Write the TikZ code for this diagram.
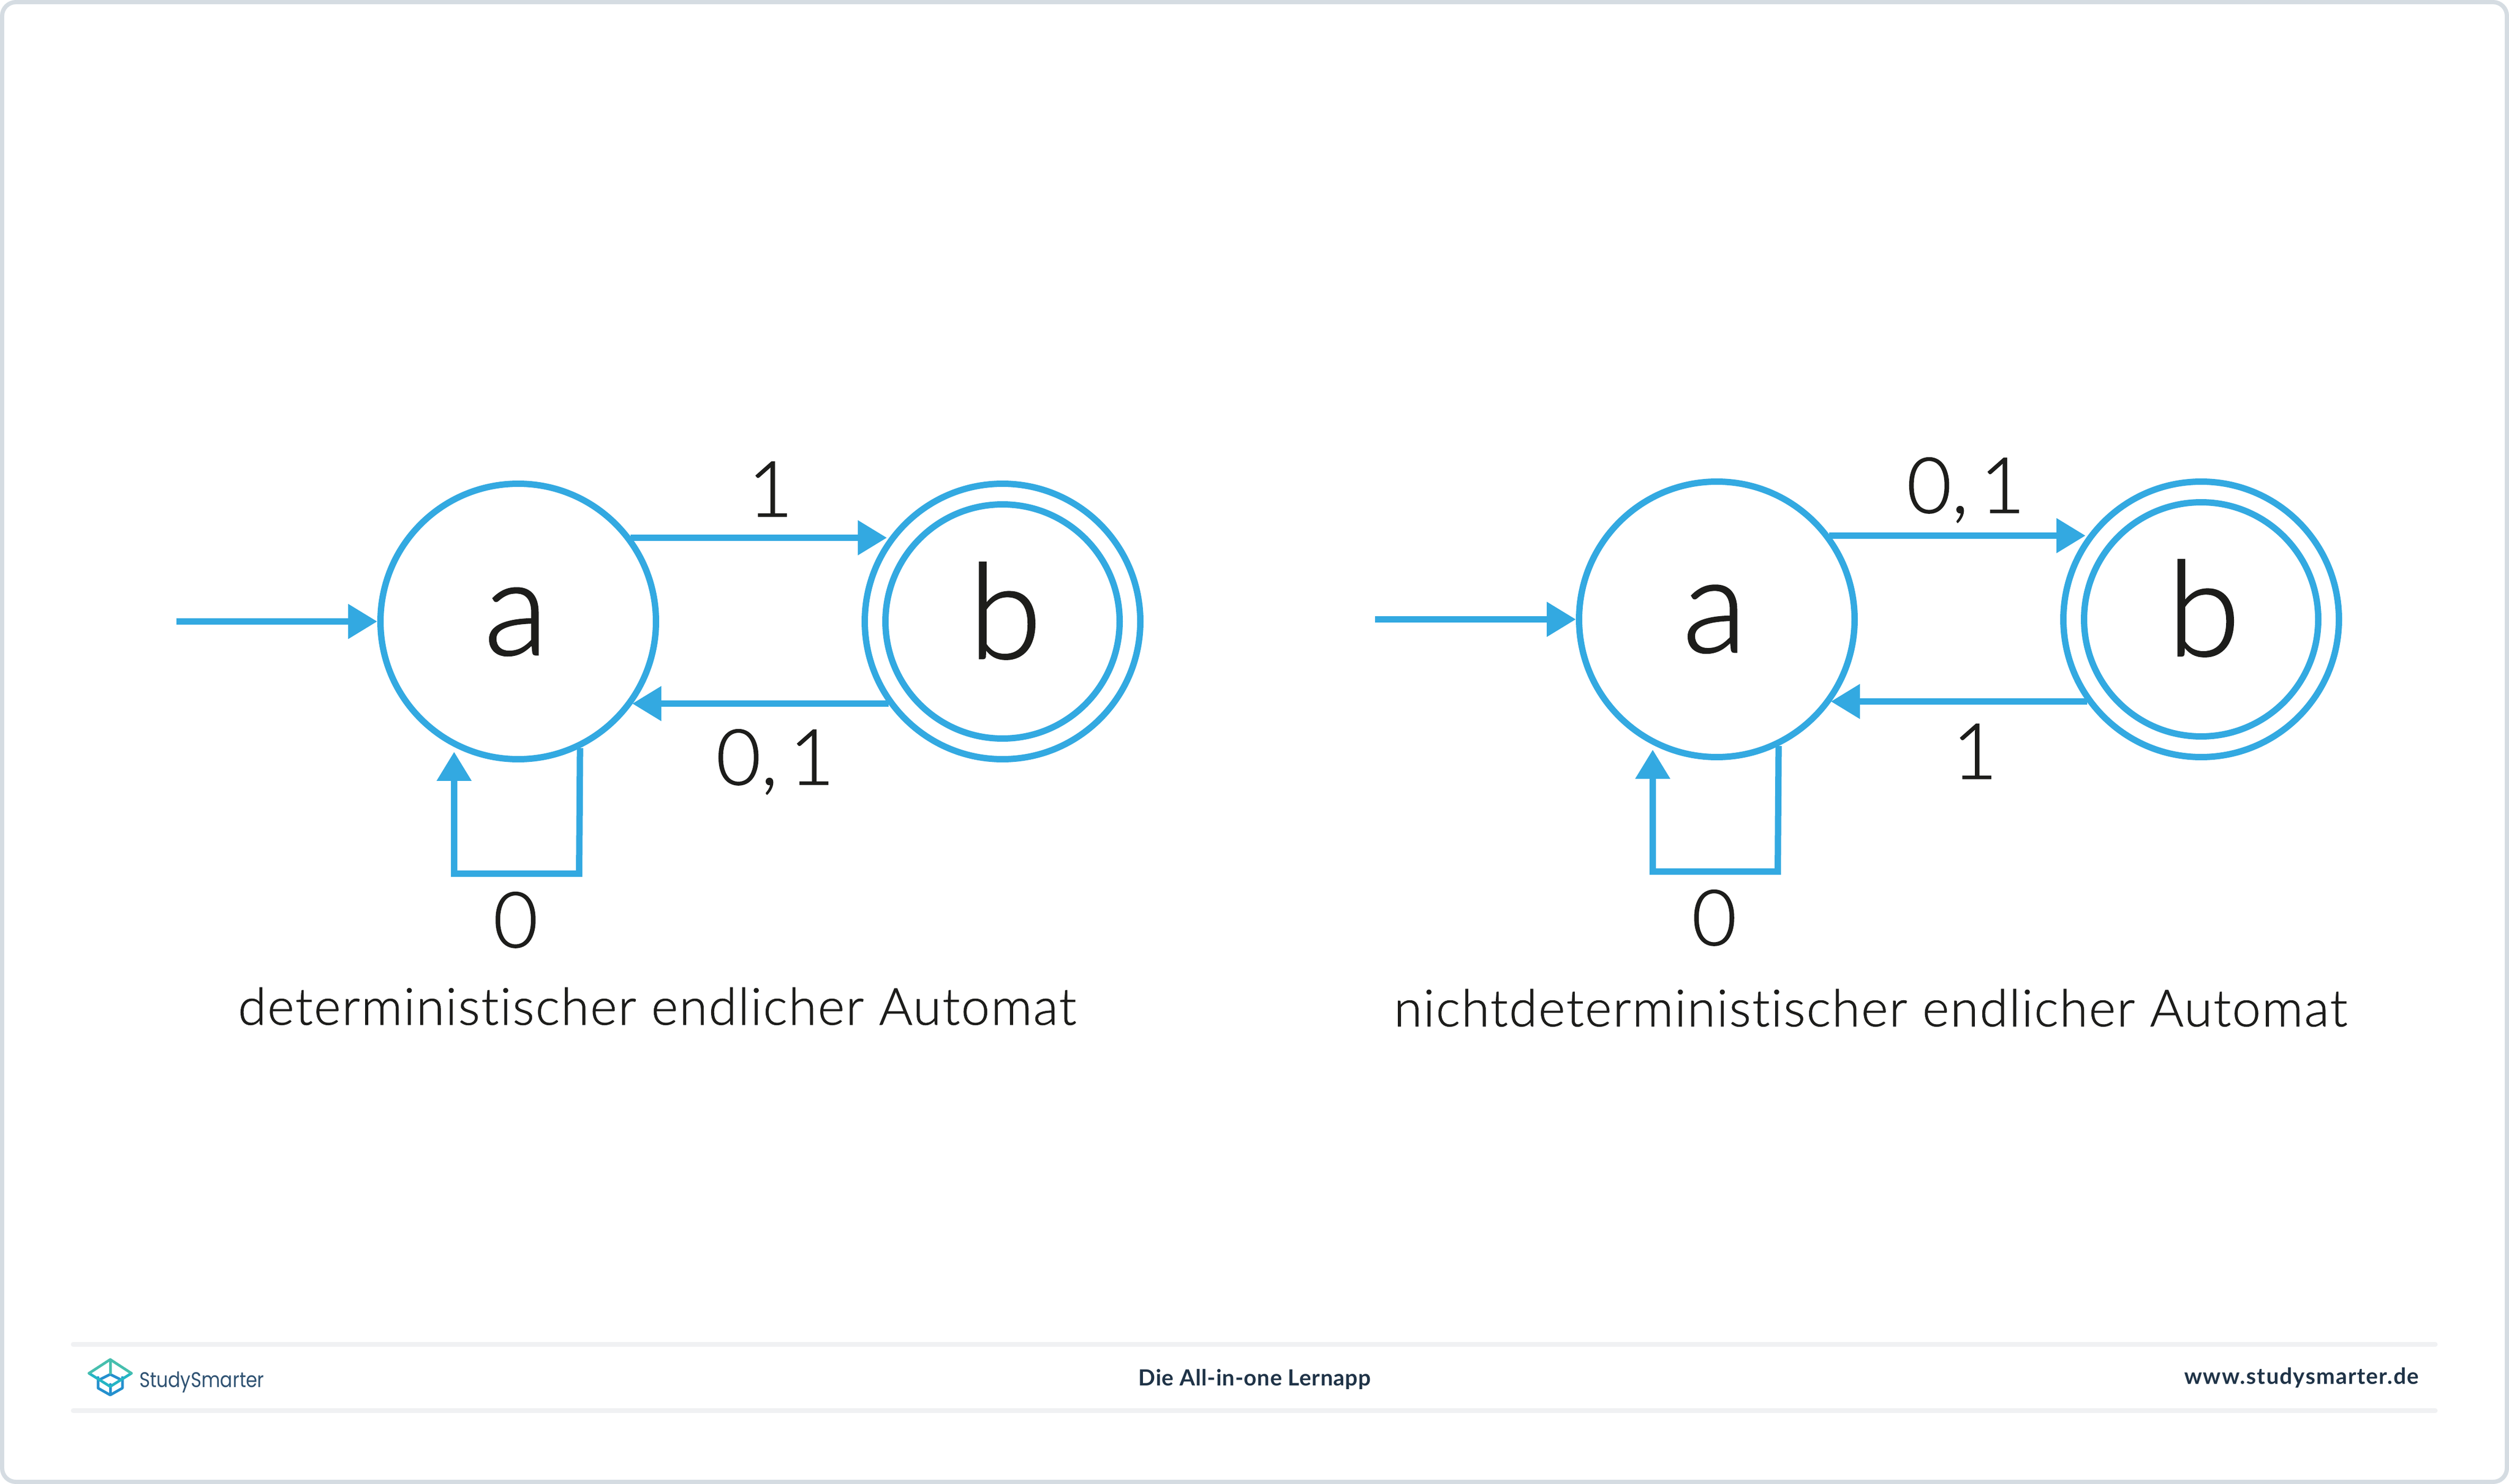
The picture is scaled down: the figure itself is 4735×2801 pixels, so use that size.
\documentclass[tikz,border=0pt]{standalone}
\usepackage{fontspec}
\setmainfont{Lato}[UprightFont=* Light,Ligatures=NoCommon,FakeBold=1]
\newfontfamily\capfont{Lato}[UprightFont=* Light,Ligatures=NoCommon,LetterSpace=2.4,FakeBold=1]
\newfontfamily\footfonta{Lato}[Ligatures=NoCommon,LetterSpace=2]
\newfontfamily\footfontb{Lato}[Ligatures=NoCommon,LetterSpace=4]
\newfontfamily\logofont{Poppins}[FakeStretch=0.86]
\usetikzlibrary{arrows.meta,calc}
\definecolor{autoblue}{HTML}{33A9E1}
\definecolor{inkc}{HTML}{1D1D1B}
\definecolor{framec}{HTML}{D5DCE2}
\definecolor{rulec}{HTML}{F0F1F3}
\definecolor{footc}{HTML}{1F3347}
\definecolor{logoc}{HTML}{2F5272}
\definecolor{logoa}{HTML}{46BFAE}
\definecolor{logob}{HTML}{25B5C4}
\definecolor{logoc2}{HTML}{2490CE}
\newcommand{\labfontsel}{\fontsize{14.6pt}{15pt}\selectfont}
\newcommand{\tightword}{\spaceskip=2.2pt\relax}
\begin{document}
\begin{tikzpicture}[x=0.1pt,y=-0.1pt,
  edge/.style={draw=autoblue,line width=1.2pt,-{Triangle[length=5.5pt,width=6.3pt]},line join=miter},
  statenode/.style={circle,draw=autoblue,line width=1.2pt,inner sep=0pt,minimum size=52pt,fill=white},
  innerstate/.style={circle,draw=autoblue,line width=1.2pt,inner sep=0pt,minimum size=44.2pt,fill=white},
  symtext/.style={text=inkc,font=\fontsize{25pt}{26pt}\selectfont,inner sep=0pt,anchor=base},
  labtext/.style={text=inkc,font=\labfontsel,inner sep=0pt,anchor=base},
  captext/.style={text=inkc,font=\capfont\fontsize{9.65pt}{12pt}\selectfont,inner sep=0pt,anchor=base},
  foottext/.style={text=footc,inner sep=0pt,anchor=base},
  rulebar/.style={draw=rulec,line width=0.85pt,line cap=round}]
\useasboundingbox (0,0) rectangle (4735,2801);
\fill[white] (0,0) rectangle (4735,2801);
\draw[framec,line width=0.8pt,rounded corners=2.6pt] (4,4) rectangle (4731,2797);
% left automaton
\node[statenode] (a1) at (978,1173) {};
\node[statenode] (b1o) at (1892,1173) {};
\node[innerstate] (b1) at (1892,1173) {};
\node[symtext] (a1t) at (974,1236) {a};
\node[symtext] (b1t) at (1897,1243) {b};
\coordinate (s1) at (333,1173);
\coordinate (t1y) at (0,1015);
\coordinate (u1y) at (0,1328);
\draw[edge] (s1) -- (a1.west);
\draw[edge,shorten >=0.3pt] (a1.37 |- t1y) -- (b1o.144 |- t1y);
\draw[edge] (b1o.-144 |- u1y) -- (a1.-36 |- u1y);
\coordinate (l1c) at (1093,1649);
\coordinate (l1d) at (857,1649);
\draw[edge,shorten >=0.9pt] (a1.-64) -- (l1c) -- (l1d) -- (a1.-117 -| l1d);
\node[labtext] (w1) at (1454,975) {1};
\node[labtext] (w2) at (1463,1481) {\tightword 0, 1};
\node[labtext] (w3) at (973,1788) {0};
\node[captext] (c1) at (1240,1934) {deterministischer endlicher Automat};
% right automaton
\node[statenode] (a2) at (3240,1169) {};
\node[statenode] (b2o) at (4154,1169) {};
\node[innerstate] (b2) at (4154,1169) {};
\node[symtext] (a2t) at (3236,1231) {a};
\node[symtext] (b2t) at (4159,1238) {b};
\coordinate (s2) at (2595,1169);
\coordinate (t2y) at (0,1011);
\coordinate (u2y) at (0,1324);
\draw[edge] (s2) -- (a2.west);
\draw[edge,shorten >=0.3pt] (a2.37 |- t2y) -- (b2o.144 |- t2y);
\draw[edge] (b2o.-144 |- u2y) -- (a2.-36 |- u2y);
\coordinate (l2c) at (3355,1645);
\coordinate (l2d) at (3119,1645);
\draw[edge,shorten >=0.9pt] (a2.-64) -- (l2c) -- (l2d) -- (a2.-117 -| l2d);
\node[labtext] (w4) at (3710,968) {\tightword 0, 1};
\node[labtext] (w5) at (3727,1470) {1};
\node[labtext] (w6) at (3235,1784) {0};
\node[captext] (c2) at (3530,1937) {nichtdeterministischer endlicher Automat};
% footer
\coordinate (r1a) at (138,2537.5);
\coordinate (r1b) at (4596,2537.5);
\coordinate (r2a) at (138,2662.5);
\coordinate (r2b) at (4596,2662.5);
\draw[rulebar] (r1a) -- (r1b);
\draw[rulebar] (r2a) -- (r2b);
\node[foottext,font=\logofont\fontsize{4pt}{5pt}\selectfont,text=logoc,anchor=base west] (f1) at (261,2618) {StudySmarter};
\node[foottext,font=\footfonta\bfseries\fontsize{4.2pt}{5pt}\selectfont] (f2) at (2368,2615) {Die All-in-one Lernapp};
\node[foottext,font=\footfontb\bfseries\fontsize{4.2pt}{5pt}\selectfont,anchor=base east] (f3) at (4567,2612) {www.studysmarter.de};
% logo
\begin{scope}[line width=0.5pt,line join=round,line cap=round]
\draw[logoc2] (185,2600) -- (185,2620) -- (208,2633) -- (231,2620) -- (231,2600);
\draw[logoc2] (208,2613) -- (208,2629);
\draw[logoc2] (190,2603) -- (208,2594) -- (226,2603);
\draw[logob] (168,2592) -- (208,2617) -- (248,2592);
\draw[logoa] (168,2592) -- (208,2566) -- (248,2592);
\draw[logoa] (208,2566) -- (208,2592);
\end{scope}
\end{tikzpicture}
\end{document}
